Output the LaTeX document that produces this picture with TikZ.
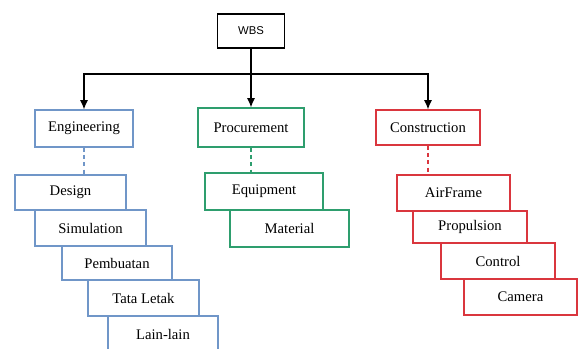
\documentclass[tikz,border=0pt]{standalone}
\usepackage{fontspec}
\setmainfont{Liberation Serif}
\newfontfamily\wbsfont{Liberation Sans}
\usetikzlibrary{arrows.meta}

\definecolor{engblue}{RGB}{112,150,200}
\definecolor{procgreen}{RGB}{46,158,110}
\definecolor{consred}{RGB}{218,54,62}

\tikzset{
  wbsbox/.style={draw, line width=0.9pt, fill=white, minimum width=50.25pt, minimum height=25.5pt, inner sep=0pt, font=\wbsfont\fontsize{8.5}{10}\selectfont},
  itembox/.style={draw=#1, line width=0.8pt, fill=white, inner sep=0pt, font=\fontsize{11}{13}\selectfont},
  flow/.style={line width=1pt, -{Latex[length=7pt,width=6pt]}},
  link/.style={draw=#1, line width=1pt, dash pattern={on 3pt off 2.5pt}}
}

\begin{document}
\begin{tikzpicture}[x=0.75pt,y=0.75pt,yscale=-1,xscale=1]
        \useasboundingbox (0,0) rectangle (582,349);

        % Top node
        \node [wbsbox] (wbs) at (251,31) {WBS};

        % Level 1
        \node [itembox=engblue, minimum width=73.5pt, minimum height=27.75pt] (eng) at (84,128.5) {Engineering};
        \node [itembox=procgreen, minimum width=79.5pt, minimum height=29.25pt] (proc) at (251,127.5) {Procurement};
        \node [itembox=consred, minimum width=78pt, minimum height=26.25pt] (cons) at (428,127.5) {Construction};

        % Engineering items
        \node [itembox=engblue, minimum width=83.25pt, minimum height=26.25pt] (design) at (70.5,192.5) {Design};
        \node [itembox=engblue, minimum width=83.25pt, minimum height=27pt] (sim) at (90.5,228) {Simulation};
        \node [itembox=engblue, minimum width=82.5pt, minimum height=25.5pt] (pemb) at (117,263) {Pembuatan};
        \node [itembox=engblue, minimum width=83.25pt, minimum height=27pt] (tata) at (143.5,298) {Tata Letak};
        \node [itembox=engblue, minimum width=82.5pt, minimum height=27pt] (lain) at (163,334) {Lain-lain};

        % Procurement items
        \node [itembox=procgreen, minimum width=88.5pt, minimum height=27.75pt] (equip) at (264,191.5) {Equipment};
        \node [itembox=procgreen, minimum width=89.25pt, minimum height=27.75pt] (mat) at (289.5,228.5) {Material};

        % Construction items
        \node [itembox=consred, minimum width=84.75pt, minimum height=27pt] (air) at (453.5,193) {AirFrame};
        \node [itembox=consred, minimum width=85.5pt, minimum height=24pt] (prop) at (470,227) {Propulsion};
        \node [itembox=consred, minimum width=85.5pt, minimum height=27pt] (ctrl) at (498,261) {Control};
        \node [itembox=consred, minimum width=84.75pt, minimum height=27pt] (cam) at (520.5,297) {Camera};

        % Arrows
        \coordinate (bus) at (251,74);
        \draw [line width=1pt] (eng.north |- bus) -- (cons.north |- bus);
        \draw [flow] (wbs.south) -- (proc.north);
        \draw [flow] (bus) -| (eng.north);
        \draw [flow] (bus) -| (cons.north);

        % Dashed links
        \draw [link=engblue] (eng.south) -- (eng.south |- design.north);
        \draw [link=procgreen] (proc.south) -- (proc.south |- equip.north);
        \draw [link=consred] (cons.south) -- (cons.south |- air.north);

\end{tikzpicture}
\end{document}
